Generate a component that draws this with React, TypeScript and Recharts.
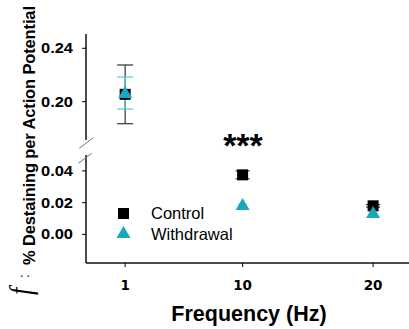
import React from "react";
import { ScatterChart, Scatter, XAxis, YAxis, ErrorBar, Legend } from "recharts";

// stimulation frequency (Hz)
const frequencies = [1, 10, 20];
// mean destaining per AP and SEM
const controlMean = [0.2055, 0.0375, 0.018];
const controlErr = [0.022, 0.0025, 0.0008];
const withdrawalMean = [0.2065, 0.0185, 0.0135];
const withdrawalErr = [0.012, 0.0004, 0.0004];

const xTicks = [1, 10, 20];
const upperTicks = [0.2, 0.24];
const lowerTicks = [0, 0.02, 0.04];

const BLACK = "#000000";
const TEAL = "#17a8bd";
const TEAL_LIGHT = "#5cc9d6";
const FONT = "'Liberation Sans', Arial, sans-serif";
const TICK_FONT = "'DejaVu Sans', Verdana, sans-serif";

// values above this go in the top panel of the broken axis
const BREAK_AT = 0.1;

const control = frequencies.map((f, i) => ({ x: f, y: controlMean[i], err: controlErr[i] }));
const withdrawal = frequencies.map((f, i) => ({ x: f, y: withdrawalMean[i], err: withdrawalErr[i] }));

const SquareShape = (props: any) => {
  const { cx, cy } = props;
  return <rect x={cx - 5.5} y={cy - 5.5} width={11} height={11} fill={BLACK} />;
};

const TriangleShape = (props: any) => {
  const { cx, cy } = props;
  return <polygon points={`${cx},${cy - 7} ${cx - 7},${cy + 5} ${cx + 7},${cy + 5}`} fill={TEAL} />;
};

const tickStyle = { fill: "#000", fontSize: 13.5, fontWeight: "bold", fontFamily: TICK_FONT };
const axisLine = { stroke: "#111", strokeWidth: 1.5 };
const fmt = (v: number) => v.toFixed(2);

const YTick = (props: any) => {
  const { x, y, payload } = props;
  return (
    <text
      x={x}
      y={y}
      dy="0.36em"
      textAnchor="end"
      fontFamily={FONT}
      fontWeight="bold"
      fontSize={14}
      textLength={32}
      lengthAdjust="spacingAndGlyphs"
      fill="#000"
    >
      {fmt(payload.value)}
    </text>
  );
};

const LegendContent = (props: any) => {
  const { payload } = props;
  return (
    <div style={{ fontFamily: FONT, fontSize: 16.5, color: "#000" }}>
      {(payload || []).map((entry: any, i: number) => (
        <div key={entry.value} style={{ display: "flex", alignItems: "center", height: 21 }}>
          <svg width={30} height={21}>
            {i === 0 ? (
              <rect x={8} y={5} width={11} height={11} fill={BLACK} />
            ) : (
              <polygon points="13.5,2 6.5,14 20.5,14" fill={TEAL} />
            )}
          </svg>
          <span style={{ marginLeft: 11 }}>{entry.value}</span>
        </div>
      ))}
    </div>
  );
};

export default function App() {
  return (
    <div style={{ position: "fixed", left: 0, top: 0, width: 409, height: 329, background: "#fff" }}>
      <div style={{ position: "absolute", left: 0, top: 0 }}>
        <ScatterChart width={409} height={329} margin={{ top: 34, right: 0, bottom: 189, left: 26 }}>
          <XAxis type="number" dataKey="x" domain={[-2, 22.75]} hide />
          <YAxis
            type="number"
            dataKey="y"
            domain={[0.1713, 0.2507]}
            allowDataOverflow
            ticks={upperTicks}
            width={60}
            tickSize={4}
            tickMargin={9}
            tick={YTick}
            tickLine={{ stroke: "#000" }}
            axisLine={axisLine}
          />
          <Scatter
            name="Control"
            data={control.filter((d) => d.y > BREAK_AT)}
            fill={BLACK}
            shape={SquareShape}
            isAnimationActive={false}
          >
            <ErrorBar dataKey="err" direction="y" width={8} stroke="#333" strokeWidth={1.2} />
          </Scatter>
          <Scatter
            name="Withdrawal"
            data={withdrawal.filter((d) => d.y > BREAK_AT)}
            fill={TEAL}
            shape={TriangleShape}
            isAnimationActive={false}
          >
            <ErrorBar dataKey="err" direction="y" width={8} stroke={TEAL_LIGHT} strokeWidth={1.2} />
          </Scatter>
        </ScatterChart>
      </div>
      <div style={{ position: "absolute", left: 0, top: 0 }}>
        <ScatterChart width={409} height={329} margin={{ top: 155, right: 0, bottom: 36, left: 26 }}>
          <XAxis
            type="number"
            dataKey="x"
            domain={[-2, 22.75]}
            ticks={xTicks}
            height={30}
            tickSize={4}
            tickMargin={13}
            tick={tickStyle}
            tickLine={{ stroke: "#000" }}
            axisLine={axisLine}
          />
          <YAxis
            type="number"
            dataKey="y"
            domain={[-0.018, 0.05]}
            allowDataOverflow
            ticks={lowerTicks}
            width={60}
            tickSize={4}
            tickMargin={9}
            tick={YTick}
            tickLine={{ stroke: "#000" }}
            axisLine={axisLine}
          />
          <Legend
            layout="vertical"
            align="center"
            verticalAlign="middle"
            content={LegendContent}
            wrapperStyle={{ left: 110, top: 203, width: 150 }}
          />
          <Scatter
            name="Control"
            data={control.filter((d) => d.y <= BREAK_AT)}
            fill={BLACK}
            shape={SquareShape}
            isAnimationActive={false}
          >
            <ErrorBar dataKey="err" direction="y" width={7} stroke="#333" strokeWidth={1.2} />
          </Scatter>
          <Scatter
            name="Withdrawal"
            data={withdrawal.filter((d) => d.y <= BREAK_AT)}
            fill={TEAL}
            shape={TriangleShape}
            isAnimationActive={false}
          >
            <ErrorBar dataKey="err" direction="y" width={4} stroke={TEAL} strokeWidth={1} />
          </Scatter>
        </ScatterChart>
      </div>
      <svg
        width={409}
        height={329}
        style={{ position: "absolute", left: 0, top: 0, pointerEvents: "none" }}
      >
        {/* axis break marks */}
        <line x1={79.3} y1={148.3} x2={93.3} y2={137.7} stroke="#777" strokeWidth={1} />
        <line x1={78.3} y1={163.3} x2={91.7} y2={153.3} stroke="#777" strokeWidth={1} />
        <text x={243} y={157} textAnchor="middle" fontFamily={FONT} fontWeight="bold" fontSize={34} fill="#000">
          ***
        </text>
        {/* y axis title: script f, colon, then the label */}
        <text
          x={0}
          y={0}
          transform="translate(31, 295) rotate(-90) scale(1, 1.2)"
          fontFamily="'Liberation Serif', 'Times New Roman', serif"
          fontStyle="italic"
          fontSize={26}
          fill="#000"
        >
          f
        </text>
        <text x={28.5} y={278} transform="rotate(-90, 28.5, 278)" fontFamily={FONT} fontSize={14} fill="#000">
          :
        </text>
        <text
          x={34.5}
          y={265}
          transform="rotate(-90, 34.5, 265)"
          fontFamily={FONT}
          fontWeight="bold"
          fontSize={16.5}
          textLength={259}
          lengthAdjust="spacing"
          fill="#000"
        >
          % Destaining per Action Potential
        </text>
        <text x={249} y={321} textAnchor="middle" fontFamily={FONT} fontWeight="bold" fontSize={21.5} fill="#000">
          Frequency (Hz)
        </text>
      </svg>
    </div>
  );
}
